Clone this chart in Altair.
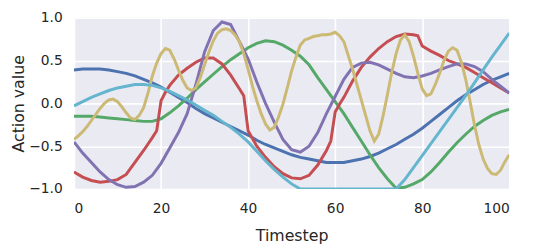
import altair as alt
import pandas as pd

# timesteps
t_even = list(range(0, 101, 2))
t_all = list(range(0, 101))
t_red = [0, 2, 4, 6, 8, 10, 12, 14, 16, 18,
         19, 20, 21, 22, 24, 26, 28, 30, 32, 34,
         36, 38, 39, 40, 42, 44, 46, 48, 50, 52,
         54, 56, 58, 59, 60, 61, 62, 64, 66, 68,
         70, 72, 74, 76, 78, 79, 80, 82, 84, 86,
         88, 90, 92, 94, 96, 98, 100]

blue = [0.39, 0.40, 0.40, 0.40, 0.39, 0.37, 0.35, 0.32, 0.28, 0.24,
        0.19, 0.13, 0.07, 0.01, -0.06, -0.12, -0.17, -0.22, -0.27, -0.32,
        -0.37, -0.43, -0.48, -0.52, -0.56, -0.60, -0.63, -0.65, -0.67, -0.69,
        -0.69, -0.69, -0.67, -0.65, -0.62, -0.58, -0.53, -0.48, -0.42, -0.36,
        -0.29, -0.21, -0.13, -0.05, 0.03, 0.10, 0.16, 0.22, 0.27, 0.31,
        0.35]

green = [-0.15, -0.15, -0.15, -0.16, -0.17, -0.18, -0.19, -0.20, -0.21, -0.21,
         -0.18, -0.11, -0.03, 0.06, 0.16, 0.25, 0.34, 0.43, 0.51, 0.58,
         0.65, 0.70, 0.73, 0.72, 0.68, 0.62, 0.55, 0.45, 0.30, 0.16,
         0.02, -0.12, -0.28, -0.44, -0.60, -0.75, -0.88, -0.99, -0.98, -0.94,
         -0.89, -0.80, -0.69, -0.57, -0.46, -0.36, -0.27, -0.20, -0.14, -0.10,
         -0.07]

red = [-0.80, -0.86, -0.90, -0.92, -0.91, -0.89, -0.83, -0.69, -0.55, -0.40,
       -0.32, 0.03, 0.13, 0.21, 0.33, 0.41, 0.48, 0.53, 0.53, 0.46,
       0.33, 0.17, 0.09, -0.32, -0.50, -0.63, -0.74, -0.82, -0.87, -0.88,
       -0.84, -0.72, -0.55, -0.44, -0.10, -0.01, 0.07, 0.26, 0.42, 0.54,
       0.64, 0.72, 0.78, 0.81, 0.80, 0.79, 0.67, 0.61, 0.56, 0.50,
       0.46, 0.42, 0.36, 0.30, 0.24, 0.18, 0.12]

purple = [-0.45, -0.58, -0.69, -0.80, -0.89, -0.95, -0.98, -0.97, -0.92, -0.84,
          -0.70, -0.52, -0.34, -0.12, 0.22, 0.60, 0.85, 0.95, 0.92, 0.72,
          0.52, 0.25, 0.00, -0.22, -0.42, -0.54, -0.57, -0.50, -0.34, -0.12,
          0.08, 0.28, 0.42, 0.47, 0.48, 0.45, 0.40, 0.35, 0.31, 0.30,
          0.32, 0.35, 0.39, 0.43, 0.46, 0.46, 0.43, 0.37, 0.28, 0.20,
          0.12]

yellow = [-0.42, -0.38, -0.33, -0.27, -0.20, -0.13, -0.06, 0.00, 0.04, 0.05,
          0.02, -0.04, -0.11, -0.17, -0.19, -0.14, -0.05, 0.12, 0.32, 0.47,
          0.58, 0.64, 0.62, 0.52, 0.39, 0.27, 0.18, 0.15, 0.18, 0.30,
          0.45, 0.60, 0.73, 0.82, 0.86, 0.87, 0.85, 0.80, 0.72, 0.58,
          0.40, 0.20, 0.03, -0.12, -0.24, -0.31, -0.28, -0.16, -0.01, 0.18,
          0.38, 0.54, 0.68, 0.74, 0.76, 0.78, 0.79, 0.80, 0.80, 0.81,
          0.83, 0.79, 0.72, 0.56, 0.40, 0.22, 0.04, -0.14, -0.32, -0.44,
          -0.36, -0.15, 0.10, 0.36, 0.58, 0.74, 0.80, 0.72, 0.55, 0.35,
          0.17, 0.09, 0.11, 0.22, 0.35, 0.50, 0.61, 0.65, 0.62, 0.48,
          0.28, 0.02, -0.25, -0.48, -0.65, -0.76, -0.82, -0.83, -0.78, -0.68,
          -0.60]

cyan = [-0.03, 0.02, 0.07, 0.11, 0.15, 0.18, 0.20, 0.22, 0.22, 0.21,
        0.18, 0.14, 0.09, 0.04, -0.02, -0.08, -0.14, -0.21, -0.28, -0.36,
        -0.45, -0.56, -0.67, -0.77, -0.86, -0.94, -1.00, -1.00, -1.00, -1.00,
        -1.00, -1.00, -1.00, -1.00, -1.00, -1.00, -1.00, -1.00, -0.89, -0.75,
        -0.61, -0.47, -0.33, -0.19, -0.05, 0.09, 0.24, 0.39, 0.54, 0.68,
        0.82]

series_names = ["s1", "s2", "s3", "s4", "s5", "s6"]
series_colors = ["#4C72B0", "#55A868", "#C44E52", "#8172B2", "#CCB974", "#64B5CD"]
series_data = [(t_even, blue), (t_even, green), (t_red, red),
               (t_even, purple), (t_all, yellow), (t_even, cyan)]

rows = []
for name, (ts, vs) in zip(series_names, series_data):
    for t, v in zip(ts, vs):
        rows.append({"series": name, "t": t, "v": v})
df = pd.DataFrame(rows)

font = "DejaVu Sans"
txt = "#262626"

chart = alt.Chart(df).mark_line(strokeWidth=3, clip=True).encode(
    x=alt.X("t:Q", scale=alt.Scale(domain=[0, 100], nice=False),
            axis=alt.Axis(title="Timestep", values=[0, 20, 40, 60, 80, 100],
                          labelPadding=13, titleY=52, titleBaseline="alphabetic")),
    y=alt.Y("v:Q", scale=alt.Scale(domain=[-1, 1], nice=False),
            axis=alt.Axis(title="Action value", values=[-1, -0.5, 0, 0.5, 1],
                          format=".1f", labelPadding=12, titleX=-56,
                          titleBaseline="middle")),
    color=alt.Color("series:N", scale=alt.Scale(domain=series_names, range=series_colors),
                    legend=None),
    order=alt.Order("t:Q"),
).properties(
    width=442, height=174,
    padding={"left": 67, "top": 8, "right": 17, "bottom": 56},
    autosize=alt.AutoSizeParams(type="none"),
).configure_view(
    fill="#EAEAF2", stroke=None
).configure_axis(
    grid=True, gridColor="white", gridWidth=1.6, domain=False, ticks=False, tickSize=0,
    labelFont=font, labelFontSize=14, labelColor=txt,
    titleFont=font, titleFontSize=16, titleColor=txt, titleFontWeight="normal",
)

chart.save("out.html", embed_options={"renderer": "svg", "actions": False})
